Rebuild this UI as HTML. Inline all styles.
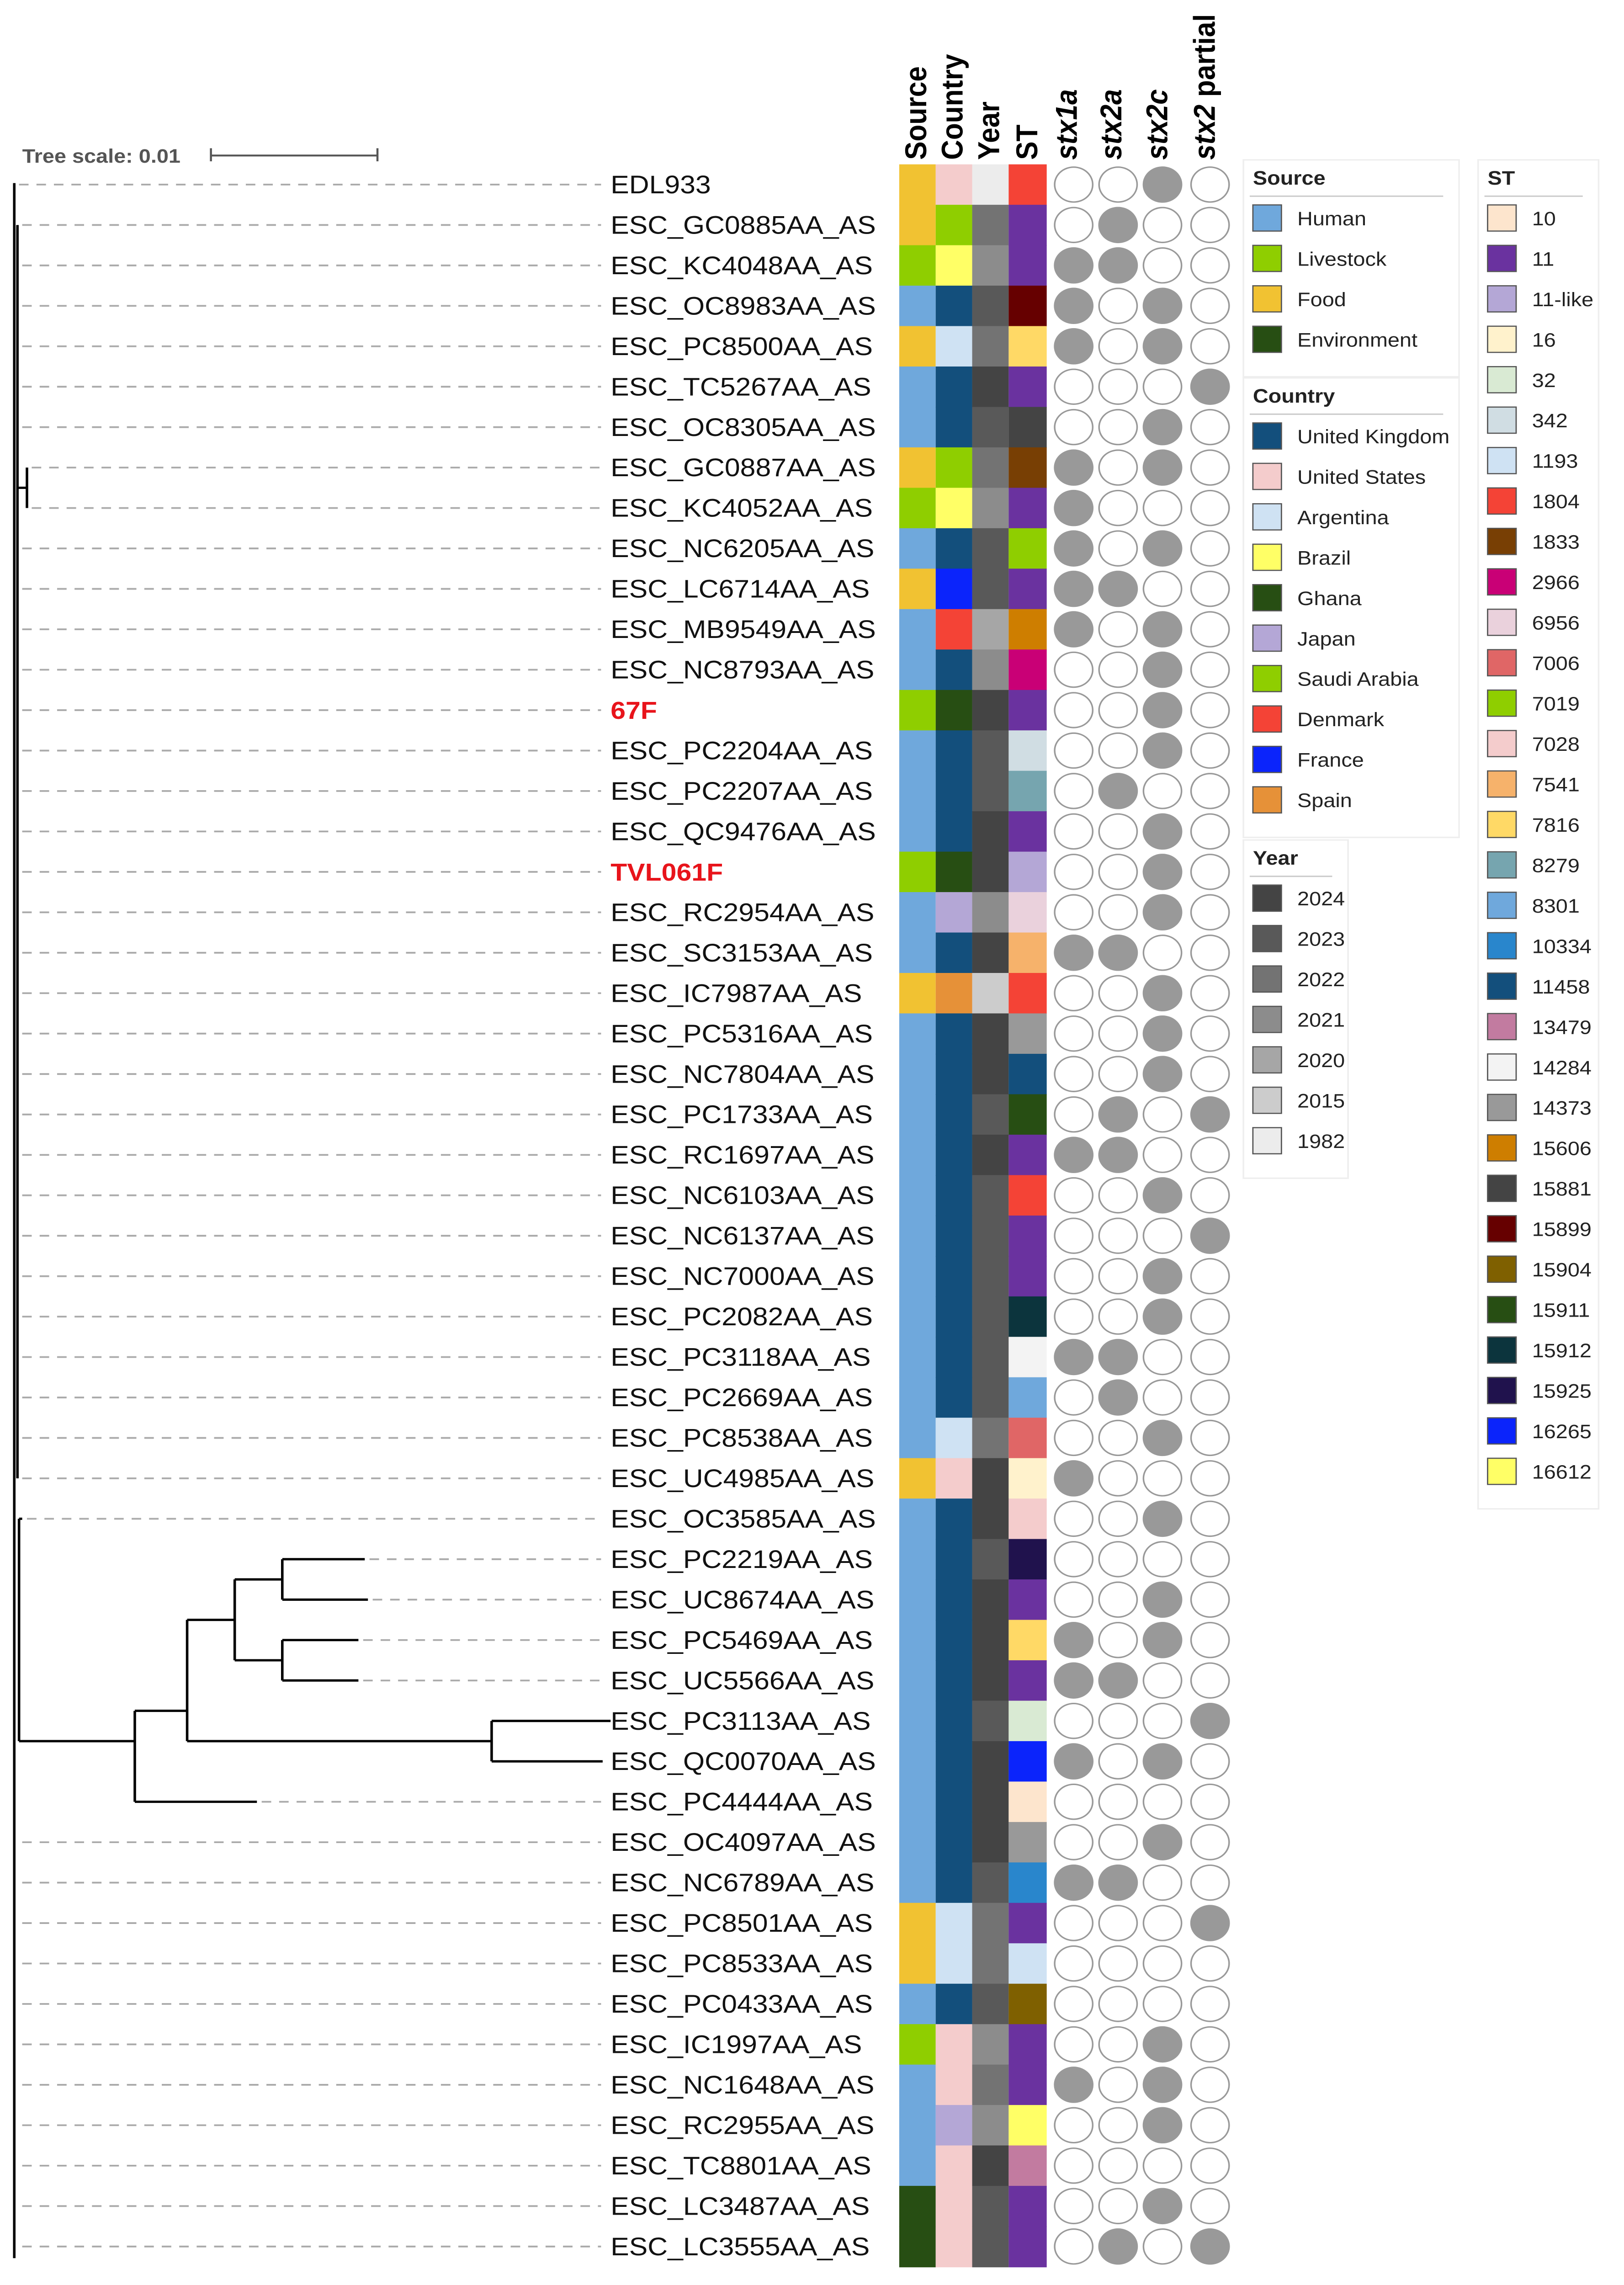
<!DOCTYPE html>
<html><head><meta charset="utf-8"><style>
html,body{margin:0;padding:0;background:#fff;width:100vw;height:100vh;overflow:hidden}
svg{display:block;position:absolute;left:0;top:0;width:100vw;height:100vh}
text{font-family:"Liberation Sans",sans-serif}
</style></head><body>
<svg id="fig" viewBox="0 0 1024 1572.3" preserveAspectRatio="none" xmlns="http://www.w3.org/2000/svg">
<g id="scale">
<text x="14" y="112" font-size="13.5" font-weight="bold" fill="#555">Tree scale: 0.01</text>
<line x1="133" y1="107" x2="238" y2="107" stroke="#555" stroke-width="1.3"/>
<line x1="133" y1="102" x2="133" y2="111" stroke="#555" stroke-width="1.3"/>
<line x1="238" y1="102" x2="238" y2="111" stroke="#555" stroke-width="1.3"/>
</g>
<g id="tree" stroke="#000" stroke-width="1.6" fill="none"></g>
<g id="rows"></g>
<g id="heads"></g>
<g id="legends"></g>
</svg>
<script>
const labels=["EDL933","ESC_GC0885AA_AS","ESC_KC4048AA_AS","ESC_OC8983AA_AS","ESC_PC8500AA_AS","ESC_TC5267AA_AS","ESC_OC8305AA_AS","ESC_GC0887AA_AS","ESC_KC4052AA_AS","ESC_NC6205AA_AS","ESC_LC6714AA_AS","ESC_MB9549AA_AS","ESC_NC8793AA_AS","67F","ESC_PC2204AA_AS","ESC_PC2207AA_AS","ESC_QC9476AA_AS","TVL061F","ESC_RC2954AA_AS","ESC_SC3153AA_AS","ESC_IC7987AA_AS","ESC_PC5316AA_AS","ESC_NC7804AA_AS","ESC_PC1733AA_AS","ESC_RC1697AA_AS","ESC_NC6103AA_AS","ESC_NC6137AA_AS","ESC_NC7000AA_AS","ESC_PC2082AA_AS","ESC_PC3118AA_AS","ESC_PC2669AA_AS","ESC_PC8538AA_AS","ESC_UC4985AA_AS","ESC_OC3585AA_AS","ESC_PC2219AA_AS","ESC_UC8674AA_AS","ESC_PC5469AA_AS","ESC_UC5566AA_AS","ESC_PC3113AA_AS","ESC_QC0070AA_AS","ESC_PC4444AA_AS","ESC_OC4097AA_AS","ESC_NC6789AA_AS","ESC_PC8501AA_AS","ESC_PC8533AA_AS","ESC_PC0433AA_AS","ESC_IC1997AA_AS","ESC_NC1648AA_AS","ESC_RC2955AA_AS","ESC_TC8801AA_AS","ESC_LC3487AA_AS","ESC_LC3555AA_AS"];
const highlighted=["67F","TVL061F"];
const sources=["Food","Food","Livestock","Human","Food","Human","Human","Food","Livestock","Human","Food","Human","Human","Livestock","Human","Human","Human","Livestock","Human","Human","Food","Human","Human","Human","Human","Human","Human","Human","Human","Human","Human","Human","Food","Human","Human","Human","Human","Human","Human","Human","Human","Human","Human","Food","Food","Human","Livestock","Human","Human","Human","Environment","Environment"];
const countries=["United States","Saudi Arabia","Brazil","United Kingdom","Argentina","United Kingdom","United Kingdom","Saudi Arabia","Brazil","United Kingdom","France","Denmark","United Kingdom","Ghana","United Kingdom","United Kingdom","United Kingdom","Ghana","Japan","United Kingdom","Spain","United Kingdom","United Kingdom","United Kingdom","United Kingdom","United Kingdom","United Kingdom","United Kingdom","United Kingdom","United Kingdom","United Kingdom","Argentina","United States","United Kingdom","United Kingdom","United Kingdom","United Kingdom","United Kingdom","United Kingdom","United Kingdom","United Kingdom","United Kingdom","United Kingdom","Argentina","Argentina","United Kingdom","United States","United States","Japan","United States","United States","United States"];
const years=["1982","2022","2021","2023","2022","2024","2023","2022","2021","2023","2023","2020","2021","2024","2023","2023","2024","2024","2021","2024","2015","2024","2024","2023","2024","2023","2023","2023","2023","2023","2023","2022","2024","2024","2023","2024","2024","2024","2023","2024","2024","2024","2023","2022","2022","2023","2021","2022","2021","2024","2023","2023"];
const sts=["1804","11","11","15899","7816","11","15881","1833","11","7019","11","15606","2966","11","342","8279","11","11-like","6956","7541","1804","14373","11458","15911","11","1804","11","11","15912","14284","8301","7006","16","7028","15925","11","7816","11","32","16265","10","14373","10334","11","1193","15904","11","11","16612","13479","11","11"];
const stx1a=[0,0,1,1,1,0,0,1,1,1,1,1,0,0,0,0,0,0,0,1,0,0,0,0,1,0,0,0,0,1,0,0,1,0,0,0,1,1,0,1,0,0,1,0,0,0,0,1,0,0,0,0];
const stx2a=[0,1,1,0,0,0,0,0,0,0,1,0,0,0,0,1,0,0,0,1,0,0,0,1,1,0,0,0,0,1,1,0,0,0,0,0,0,1,0,0,0,0,1,0,0,0,0,0,0,0,0,1];
const stx2c=[1,0,0,1,1,0,1,1,0,1,0,1,1,1,1,0,1,1,1,0,1,1,1,0,0,1,0,1,1,0,0,1,0,1,0,1,1,0,0,1,0,1,0,0,0,0,1,1,1,0,1,0];
const stx2p=[0,0,0,0,0,1,0,0,0,0,0,0,0,0,0,0,0,0,0,0,0,0,0,1,0,0,1,0,0,0,0,0,0,0,0,0,0,0,1,0,0,0,0,1,0,0,0,0,0,0,0,1];
const sourceKeys=["Human","Livestock","Food","Environment"];
const sourceCols=["#6fa8dc","#8fce00","#f1c232","#274e13"];
const countryKeys=["United Kingdom","United States","Argentina","Brazil","Ghana","Japan","Saudi Arabia","Denmark","France","Spain"];
const countryCols=["#134f7c","#f4cccc","#cfe2f3","#ffff66","#274e13","#b4a7d6","#8fce00","#f44336","#0b24fb","#e69138"];
const yearKeys=["2024","2023","2022","2021","2020","2015","1982"];
const yearCols=["#444444","#595959","#737373","#8c8c8c","#a6a6a6","#cccccc","#ececec"];
const stKeys=["10","11","11-like","16","32","342","1193","1804","1833","2966","6956","7006","7019","7028","7541","7816","8279","8301","10334","11458","13479","14284","14373","15606","15881","15899","15904","15911","15912","15925","16265","16612"];
const stCols=["#fde5cd","#6a329f","#b4a7d6","#fff2cc","#d9ead3","#d0dde3","#cfe2f3","#f44336","#783f04","#c90076","#ead1dc","#e06666","#8fce00","#f4cccc","#f6b26b","#ffd966","#76a5af","#6fa8dc","#2986cc","#134f7c","#c27ba0","#f3f3f3","#999999","#ce7e00","#444444","#660000","#7f6000","#274e13","#0c343d","#20124d","#0b24fb","#ffff66"];
const tipX=[9,11,11,11,11,11,11,17,17,11,11,11,11,11,11,11,11,11,11,11,11,11,11,11,11,11,11,11,11,11,11,11,11,14,230,232,226,226,385,380,162,11,11,11,11,11,11,11,11,11,11,11];
const NS="http://www.w3.org/2000/svg";
const y0=127,dy=27.82;
function Y(i){return y0+i*dy;}
function mk(tag,attrs,parent){const e=document.createElementNS(NS,tag);for(const k in attrs)e.setAttribute(k,attrs[k]);parent.appendChild(e);return e;}
const tree=document.getElementById('tree');
function L(x1,y1,x2,y2){const l=mk('line',{x1:x1,y1:y1,x2:x2,y2:y2},tree);}
L(9,Y(0)-1,9,Y(51)+8);
L(11,Y(1),11,Y(32));
L(17,Y(7),17,Y(8));L(11,(Y(7)+Y(8))/2,17,(Y(7)+Y(8))/2);
const yA=(Y(34)+Y(35))/2, yB=(Y(36)+Y(37))/2, yC=(yA+yB)/2, yD=(Y(38)+Y(39))/2, yF=(yC+Y(40))/2;
L(12,Y(33),12,yD);L(12,Y(33),14,Y(33));
L(178,Y(34),178,Y(35));L(178,Y(34),230,Y(34));L(178,Y(35),232,Y(35));
L(178,Y(36),178,Y(37));L(178,Y(36),226,Y(36));L(178,Y(37),226,Y(37));
L(148,yA,148,yB);L(148,yA,178,yA);L(148,yB,178,yB);
L(310,Y(38),310,Y(39));L(310,Y(38),385,Y(38));L(310,Y(39),380,Y(39));
L(118,yC,118,yD);L(118,yC,148,yC);L(118,yD,310,yD);
L(85,yF,85,Y(40));L(85,yF,118,yF);L(85,Y(40),162,Y(40));
L(12,yD,85,yD);
const rows=document.getElementById('rows');
function colOf(keys,cols,v){return cols[keys.indexOf(v)]||"#fff";}
const cx=[567,590,613,636],cw=[23,23,23,24];
const circX=[677,705,733,763];
const stx=[stx1a,stx2a,stx2c,stx2p];
for(let i=0;i<labels.length;i++){
  const y=Y(i);
  if(tipX[i]<378){const d=mk('line',{x1:tipX[i]+3,y1:y,x2:379,y2:y,stroke:"#aaa","stroke-width":1.2,"stroke-dasharray":"6,5"},rows);
  }
  const hl=highlighted.includes(labels[i]);
  const t=mk('text',{x:385,y:y+6,"font-size":hl?17:17.5,fill:hl?"#e8141b":"#111","font-weight":hl?"bold":"normal"},rows);
  t.textContent=labels[i];
  
  const vals=[colOf(sourceKeys,sourceCols,sources[i]),colOf(countryKeys,countryCols,countries[i]),colOf(yearKeys,yearCols,years[i]),colOf(stKeys,stCols,sts[i])];
  for(let c=0;c<4;c++){const r=mk('rect',{x:cx[c],y:y-dy/2,width:cw[c],height:dy+0.4,fill:vals[c]},rows);
    }
  for(let c=0;c<4;c++){const ci=mk('circle',{cx:circX[c],cy:y,r:12,fill:stx[c][i]?"#999":"#fff",stroke:"#999","stroke-width":1},rows);
    }
}
const heads=document.getElementById('heads');
const hTxt=["Source","Country","Year","ST","stx1a","stx2a","stx2c","stx2 partial"];
const hX=[584,607,630,654,679,707,736,766];
for(let k=0;k<hTxt.length;k++){
  const t=mk('text',{x:0,y:0,transform:`translate(${hX[k]},110) rotate(-90)`,"font-size":19,"font-weight":"bold",fill:"#000","font-style":k>=4?"italic":"normal"},heads);
  if(k==7){t.innerHTML='<tspan font-style="italic">stx2</tspan><tspan font-style="normal"> partial</tspan>';}else t.textContent=hTxt[k];
  
}
const lg=document.getElementById('legends');
function legend(title,keys,cols,x,yTop,w,border){
  const g=mk('g',{},lg);
  
  if(border) mk('rect',{x:x-4,y:yTop-12,width:w,height:keys.length*dy+38,fill:"none",stroke:"#eee","stroke-width":1},g);
  const t=mk('text',{x:x+2,y:yTop+5,"font-size":13.5,"font-weight":"bold",fill:"#222"},g);t.textContent=title;
  mk('line',{x1:x,y1:yTop+13,x2:x+w-14,y2:yTop+13,stroke:"#ccc","stroke-width":1},g);
  for(let i=0;i<keys.length;i++){const yy=yTop+28+i*dy;
    const r=mk('rect',{x:x+2,y:yy-9,width:18,height:18,fill:cols[i],stroke:"#555","stroke-width":0.8},g);
    
    const tt=mk('text',{x:x+30,y:yy+5,"font-size":13.5,fill:"#222"},g);tt.textContent=keys[i];
    }
}
legend("Source",sourceKeys,sourceCols,788,122,136,true);
legend("Country",countryKeys,countryCols,788,272,136,true);
legend("Year",yearKeys,yearCols,788,590,66,true);
legend("ST",stKeys,stCols,936,122,76,true);
</script>
</body></html>
